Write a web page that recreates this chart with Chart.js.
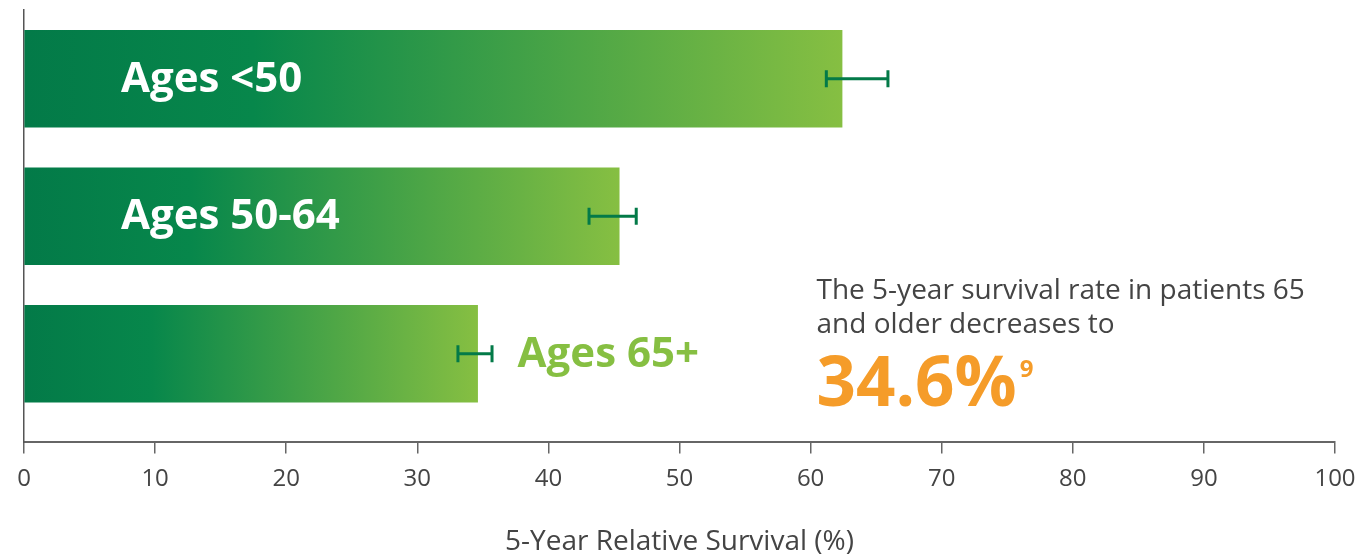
<!DOCTYPE html>
<html>
<head>
<meta charset="utf-8">
<script src="https://cdn.jsdelivr.net/npm/chart.js@4"></script>
<style>
    html, body { margin: 0; padding: 0; background: #fff; }
    #wrap { width: 1356px; height: 554px; }
</style>
</head>
<body>
<div id="wrap"><canvas id="survivalChart"></canvas></div>
<script>
// ── Data ──
const categories = ['Ages <50', 'Ages 50-64', 'Ages 65+'];
const survival = [62.4, 45.4, 34.6];
const errLow = [61.2, 43.1, 33.1];
const errHigh = [65.9, 46.7, 35.7];
const labelInside = [true, true, false];
const calloutLines = ['The 5-year survival rate in patients 65', 'and older decreases to'];
const calloutValue = '34.6%';
const calloutRef = '9';

const COLORS = {
    dark: '#037a48',
    light: '#86bf42',
    axis: '#666666',
    text: '#444444',
    orange: '#f59c29',
};

const FONT = "'Open Sans', sans-serif";

// ── Error bars ──
const errorBars = {
    id: 'errorBars',
    afterDatasetsDraw(chart) {
        const { ctx, scales: { x, y } } = chart;
        ctx.save();
        ctx.strokeStyle = COLORS.dark;
        ctx.lineWidth = 3;
        categories.forEach((c, i) => {
            const py = y.getPixelForValue(i);
            const x0 = x.getPixelForValue(errLow[i]);
            const x1 = x.getPixelForValue(errHigh[i]);
            ctx.beginPath();
            ctx.moveTo(x0, py); ctx.lineTo(x1, py);
            ctx.moveTo(x0, py - 8.5); ctx.lineTo(x0, py + 8.5);
            ctx.moveTo(x1, py - 8.5); ctx.lineTo(x1, py + 8.5);
            ctx.stroke();
        });
        ctx.restore();
    }
};

// ── Bar labels + callout ──
const barLabels = {
    id: 'barLabels',
    afterDatasetsDraw(chart) {
        const { ctx, scales: { x, y } } = chart;
        ctx.save();
        ctx.font = `bold 42px ${FONT}`;
        ctx.textBaseline = 'middle';
        ctx.textAlign = 'left';
        categories.forEach((c, i) => {
            const py = y.getPixelForValue(i) + 1;
            if (labelInside[i]) {
                ctx.fillStyle = '#ffffff';
                ctx.fillText(c, x.getPixelForValue(0) + 97, py);
            } else {
                ctx.fillStyle = COLORS.light;
                ctx.fillText(c, x.getPixelForValue(survival[i]) + 40, py);
            }
        });

        const cx = x.getPixelForValue(60.45);
        ctx.textBaseline = 'alphabetic';
        ctx.fillStyle = COLORS.text;
        ctx.font = `28px ${FONT}`;
        calloutLines.forEach((line, k) => ctx.fillText(line, cx, 299 + k * 34));
        ctx.fillStyle = COLORS.orange;
        ctx.font = `bold 69px ${FONT}`;
        ctx.fillText(calloutValue, cx, 406);
        const w = ctx.measureText(calloutValue).width;
        ctx.font = `bold 24px ${FONT}`;
        ctx.fillText(calloutRef, cx + w + 3, 377);
        ctx.restore();
    }
};

// ── Chart ──
const ctx = document.getElementById('survivalChart').getContext('2d');

new Chart(ctx, {
    type: 'bar',
    data: {
        datasets: [{
            data: survival.map((v, i) => ({ x: v, y: i })),
            backgroundColor: (c) => {
                const chart = c.chart;
                const area = chart.chartArea;
                if (!area || !c.raw) return COLORS.dark;
                const end = chart.scales.x.getPixelForValue(c.raw.x);
                const g = chart.ctx.createLinearGradient(area.left, 0, end, 0);
                g.addColorStop(0, COLORS.dark);
                g.addColorStop(0.28, '#07874b');
                g.addColorStop(1, COLORS.light);
                return g;
            },
            borderWidth: 0,
            barThickness: 97,
        }]
    },
    options: {
        indexAxis: 'y',
        responsive: true,
        maintainAspectRatio: false,
        animation: false,
        layout: { padding: { left: 24, right: 21, top: 10, bottom: 0 } },
        plugins: {
            legend: { display: false },
            tooltip: { enabled: false },
        },
        scales: {
            x: {
                type: 'linear',
                min: 0,
                max: 100,
                grid: { drawOnChartArea: false, drawTicks: true, tickLength: 11, color: COLORS.axis, lineWidth: 1.5 },
                border: { color: COLORS.axis, width: 2 },
                ticks: { stepSize: 10, color: COLORS.text, font: { family: FONT, size: 24 }, padding: 11 },
                title: {
                    display: true,
                    text: '5-Year Relative Survival (%)',
                    color: COLORS.text,
                    font: { family: FONT, size: 28, lineHeight: 0.85 },
                    padding: { top: 26, bottom: 0 },
                },
                afterFit: (s) => { s.paddingLeft = 0; s.paddingRight = 0; },
            },
            y: {
                type: 'linear',
                reverse: true,
                offset: false,
                min: -0.5,
                max: 2.645,
                grid: { display: false },
                ticks: { display: false },
                border: { color: '#555555', width: 1.5 },
                afterFit: (s) => { s.width = 0; },
            },
        },
    },
    plugins: [errorBars, barLabels],
});
</script>
</body>
</html>
